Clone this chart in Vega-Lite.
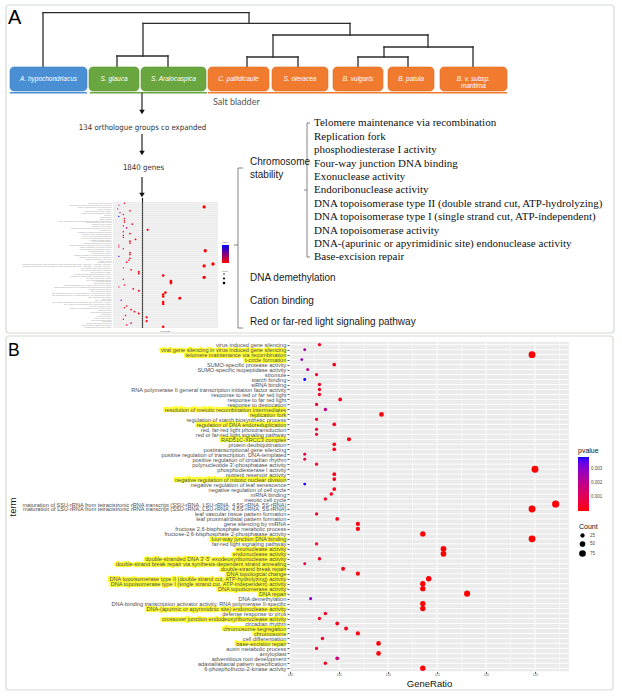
{
"$schema":"https://vega.github.io/schema/vega-lite/v6.json",
"width":622,"height":700,"padding":0,"autosize":{"type":"none"},
"background":"white",
"config":{"view":{"stroke":null},"font":"Liberation Sans"},
"datasets":{
"go":[
{"term":"virus induced gene silencing","GeneRatio":0.03012,"Count":10,"pvalue":0.0003,"hl":0},
{"term":"viral gene silencing in virus induced gene silencing","GeneRatio":0.01506,"Count":5,"pvalue":0.0026,"hl":1},
{"term":"telomere maintenance via recombination","GeneRatio":0.24699,"Count":82,"pvalue":0.00001,"hl":1},
{"term":"t-circle formation","GeneRatio":0.01205,"Count":4,"pvalue":0.0029,"hl":1},
{"term":"SUMO-specific protease activity","GeneRatio":0.04518,"Count":15,"pvalue":0.0002,"hl":0},
{"term":"SUMO-specific isopeptidase activity","GeneRatio":0.01807,"Count":6,"pvalue":0.0022,"hl":0},
{"term":"stromule","GeneRatio":0.02711,"Count":9,"pvalue":0.0004,"hl":0},
{"term":"starch binding","GeneRatio":0.01506,"Count":5,"pvalue":0.0039,"hl":0},
{"term":"siRNA binding","GeneRatio":0.03012,"Count":10,"pvalue":0.0003,"hl":0},
{"term":"RNA polymerase II general transcription initiation factor activity","GeneRatio":0.03012,"Count":10,"pvalue":0.0003,"hl":0},
{"term":"response to red or far red light","GeneRatio":0.03012,"Count":10,"pvalue":0.0003,"hl":0},
{"term":"response to far red light","GeneRatio":0.0512,"Count":17,"pvalue":0.0002,"hl":0},
{"term":"response to desiccation","GeneRatio":0.02711,"Count":9,"pvalue":0.0004,"hl":0},
{"term":"resolution of meiotic recombination intermediates","GeneRatio":0.03614,"Count":12,"pvalue":0.0021,"hl":1},
{"term":"replication fork","GeneRatio":0.09337,"Count":31,"pvalue":0.00005,"hl":1},
{"term":"regulation of starch biosynthetic process","GeneRatio":0.02711,"Count":9,"pvalue":0.0004,"hl":0},
{"term":"regulation of DNA endoreduplication","GeneRatio":0.04518,"Count":15,"pvalue":0.0002,"hl":1},
{"term":"red, far-red light phototransduction","GeneRatio":0.02711,"Count":9,"pvalue":0.0004,"hl":0},
{"term":"red or far-red light signaling pathway","GeneRatio":0.02711,"Count":9,"pvalue":0.0004,"hl":0},
{"term":"RAD51C-XRCC3 complex","GeneRatio":0.06024,"Count":20,"pvalue":0.0001,"hl":1},
{"term":"protein deubiquitination","GeneRatio":0.04518,"Count":15,"pvalue":0.0002,"hl":0},
{"term":"posttranscriptional gene silencing","GeneRatio":0.04518,"Count":15,"pvalue":0.0002,"hl":0},
{"term":"positive regulation of transcription, DNA-templated","GeneRatio":0.01506,"Count":5,"pvalue":0.0008,"hl":0},
{"term":"positive regulation of circadian rhythm","GeneRatio":0.01506,"Count":5,"pvalue":0.0008,"hl":0},
{"term":"polynucleotide 3'-phosphatase activity","GeneRatio":0.02711,"Count":9,"pvalue":0.0004,"hl":0},
{"term":"phosphodiesterase I activity","GeneRatio":0.25,"Count":83,"pvalue":0.00001,"hl":0},
{"term":"nutrient reservoir activity","GeneRatio":0.04518,"Count":15,"pvalue":0.0002,"hl":0},
{"term":"negative regulation of mitotic nuclear division","GeneRatio":0.04518,"Count":15,"pvalue":0.0002,"hl":1},
{"term":"negative regulation of leaf senescence","GeneRatio":0.01506,"Count":5,"pvalue":0.0038,"hl":0},
{"term":"negative regulation of cell cycle","GeneRatio":0.04518,"Count":15,"pvalue":0.0002,"hl":0},
{"term":"mRNA binding","GeneRatio":0.04217,"Count":14,"pvalue":0.0002,"hl":0},
{"term":"meiotic cell cycle","GeneRatio":0.03614,"Count":12,"pvalue":0.0003,"hl":0},
{"term":"maturation of SSU-rRNA from tetracistronic rRNA transcript (SSU-rRNA, LSU-rRNA, 4.5S-rRNA, 5S-rRNA)","GeneRatio":0.27108,"Count":90,"pvalue":0.00001,"hl":0},
{"term":"maturation of LSU-rRNA from tetracistronic rRNA transcript (SSU-rRNA, LSU-rRNA, 4.5S-rRNA, 5S-rRNA)","GeneRatio":0.24699,"Count":82,"pvalue":0.00001,"hl":0},
{"term":"leaf vascular tissue pattern formation","GeneRatio":0.02711,"Count":9,"pvalue":0.0004,"hl":0},
{"term":"leaf proximal/distal pattern formation","GeneRatio":0.04819,"Count":16,"pvalue":0.0002,"hl":0},
{"term":"gene silencing by miRNA","GeneRatio":0.06928,"Count":23,"pvalue":0.0001,"hl":0},
{"term":"fructose 2,6-bisphosphate metabolic process","GeneRatio":0.06928,"Count":23,"pvalue":0.0001,"hl":0},
{"term":"fructose-2,6-bisphosphate 2-phosphatase activity","GeneRatio":0.13554,"Count":45,"pvalue":0.00002,"hl":0},
{"term":"four-way junction DNA binding","GeneRatio":0.24699,"Count":82,"pvalue":0.00001,"hl":1},
{"term":"far-red light signaling pathway","GeneRatio":0.02711,"Count":9,"pvalue":0.0004,"hl":0},
{"term":"exonuclease activity","GeneRatio":0.15663,"Count":52,"pvalue":0.00002,"hl":1},
{"term":"endonuclease activity","GeneRatio":0.15663,"Count":52,"pvalue":0.00002,"hl":1},
{"term":"double-stranded DNA 3'-5' exodeoxyribonuclease activity","GeneRatio":0.03012,"Count":10,"pvalue":0.0003,"hl":1},
{"term":"double-strand break repair via synthesis-dependent strand annealing","GeneRatio":0.01506,"Count":5,"pvalue":0.0008,"hl":1},
{"term":"double-strand break repair","GeneRatio":0.05422,"Count":18,"pvalue":0.0002,"hl":1},
{"term":"DNA topological change","GeneRatio":0.06928,"Count":23,"pvalue":0.0001,"hl":1},
{"term":"DNA topoisomerase type II (double strand cut, ATP-hydrolyzing) activity","GeneRatio":0.14157,"Count":47,"pvalue":0.00002,"hl":1},
{"term":"DNA topoisomerase type I (single strand cut, ATP-independent) activity","GeneRatio":0.13554,"Count":45,"pvalue":0.00002,"hl":1},
{"term":"DNA topoisomerase activity","GeneRatio":0.13554,"Count":45,"pvalue":0.00002,"hl":1},
{"term":"DNA repair","GeneRatio":0.18072,"Count":60,"pvalue":0.00001,"hl":1},
{"term":"DNA demethylation","GeneRatio":0.02108,"Count":7,"pvalue":0.0031,"hl":0},
{"term":"DNA-binding transcription activator activity, RNA polymerase II-specific","GeneRatio":0.13554,"Count":45,"pvalue":0.00002,"hl":0},
{"term":"DNA-(apurinic or apyrimidinic site) endonuclease activity","GeneRatio":0.13554,"Count":45,"pvalue":0.00002,"hl":1},
{"term":"defense response to virus","GeneRatio":0.03614,"Count":12,"pvalue":0.0003,"hl":0},
{"term":"crossover junction endodeoxyribonuclease activity","GeneRatio":0.03012,"Count":10,"pvalue":0.0003,"hl":1},
{"term":"circadian rhythm","GeneRatio":0.04819,"Count":16,"pvalue":0.0002,"hl":0},
{"term":"chromosome segregation","GeneRatio":0.05723,"Count":19,"pvalue":0.0002,"hl":1},
{"term":"chromosome","GeneRatio":0.06928,"Count":23,"pvalue":0.0001,"hl":1},
{"term":"cell differentiation","GeneRatio":0.03313,"Count":11,"pvalue":0.0003,"hl":0},
{"term":"base-excision repair","GeneRatio":0.09036,"Count":30,"pvalue":0.00005,"hl":1},
{"term":"auxin metabolic process","GeneRatio":0.02711,"Count":9,"pvalue":0.0004,"hl":0},
{"term":"amyloplast","GeneRatio":0.09036,"Count":30,"pvalue":0.00005,"hl":0},
{"term":"adventitious root development","GeneRatio":0.04819,"Count":16,"pvalue":0.0017,"hl":0},
{"term":"adaxial/abaxial pattern specification","GeneRatio":0.03614,"Count":12,"pvalue":0.0003,"hl":0},
{"term":"6-phosphofructo-2-kinase activity","GeneRatio":0.13554,"Count":45,"pvalue":0.00002,"hl":0}
],
"frames":[{"x":6,"x2":614,"y":5,"y2":333},{"x":6,"x2":613,"y":336,"y2":690}],
"panels":[{"x":289,"x2":569,"y":341.7,"y2":671.3},{"x":113,"x2":218,"y":202,"y2":328}],
"grad":[{"x":222,"x2":229,"y":245,"y2":263}],
"mdots":[{"x":224,"y":274,"Count":25},{"x":224,"y":278.5,"Count":50},{"x":224,"y":283,"Count":75}],
"tree":[
{"x":43,"y":12.7,"x2":249,"y2":12.7},{"x":43,"y":12.7,"x2":43,"y2":67},{"x":249,"y":12.7,"x2":249,"y2":23.3},
{"x":143,"y":23.3,"x2":350,"y2":23.3},{"x":143,"y":23.3,"x2":143,"y2":56},{"x":350,"y":23.3,"x2":350,"y2":35},
{"x":117,"y":56,"x2":168,"y2":56},{"x":117,"y":56,"x2":117,"y2":67},{"x":168,"y":56,"x2":168,"y2":67},
{"x":273,"y":35,"x2":428,"y2":35},{"x":273,"y":35,"x2":273,"y2":57},{"x":428,"y":35,"x2":428,"y2":47},
{"x":247,"y":57,"x2":298,"y2":57},{"x":247,"y":57,"x2":247,"y2":67},{"x":298,"y":57,"x2":298,"y2":67},
{"x":384,"y":47,"x2":473,"y2":47},{"x":384,"y":47,"x2":384,"y2":57},{"x":473,"y":47,"x2":473,"y2":67},
{"x":358,"y":57,"x2":408,"y2":57},{"x":358,"y":57,"x2":358,"y2":67},{"x":408,"y":57,"x2":408,"y2":67}
],
"boxes":[
{"sp":"A. hypochondriacus","clade":"outgroup","x":10,"x2":87,"xc":48.5,"y":67,"y2":91,"yc":79},
{"sp":"S. glauca","clade":"salt","x":89,"x2":139,"xc":114,"y":67,"y2":91,"yc":79},
{"sp":"S. Aralocaspica","clade":"salt","x":141,"x2":206,"xc":173.5,"y":67,"y2":91,"yc":79},
{"sp":"C. pallidicaule","clade":"other","x":208,"x2":269,"xc":238.5,"y":67,"y2":91,"yc":79},
{"sp":"S. oleracea","clade":"other","x":272,"x2":328,"xc":300,"y":67,"y2":91,"yc":79},
{"sp":"B. vulgaris","clade":"other","x":333,"x2":383,"xc":358,"y":67,"y2":91,"yc":79},
{"sp":"B. patula","clade":"other","x":388,"x2":434,"xc":411,"y":67,"y2":91,"yc":79},
{"sp":"B. v. subsp.\nmaritima","clade":"other","x":440,"x2":507,"xc":473.5,"y":67,"y2":91,"yc":79}
],
"under":[{"clade":"outgroup","x":10,"x2":87,"y":92.8},{"clade":"salt","x":90,"x2":207,"y":92.8},{"clade":"other","x":208,"x2":507,"y":92.8}],
"arrows":[{"x":142,"y":93,"y2":110},{"x":142,"y":134,"y2":151},{"x":142,"y":177,"y2":193},{"x":142.5,"y":198,"y2":328}],
"heads":[{"x":142,"y":112},{"x":142,"y":153},{"x":142,"y":195}],
"brackets":[
{"x":238,"y":168,"x2":238,"y2":328},{"x":238,"y":168,"x2":243,"y2":168},{"x":238,"y":328,"x2":243,"y2":328},{"x":234,"y":245,"x2":238,"y2":245},
{"x":307,"y":123,"x2":307,"y2":257},{"x":307,"y":123,"x2":310,"y2":123},{"x":307,"y":257,"x2":310,"y2":257},{"x":304,"y":190,"x2":307,"y2":190}
],
"txt":[
{"t":"A","x":8,"y":18,"g":"letterA"},
{"t":"B","x":8,"y":351,"g":"letterB"},
{"t":"Salt bladder","x":213,"y":101.5,"g":"salt"},
{"t":"134 orthologue groups co expanded","x":142.5,"y":127.5,"g":"flow"},
{"t":"1840 genes","x":143.5,"y":168,"g":"flow"},
{"t":"Chromosome","x":250,"y":161.5,"g":"cat"},
{"t":"stability","x":250,"y":174.5,"g":"cat"},
{"t":"DNA demethylation","x":250,"y":278,"g":"cat"},
{"t":"Cation binding","x":250,"y":300.5,"g":"cat"},
{"t":"Red or far-red light signaling pathway","x":250,"y":322,"g":"cat"},
{"t":"Telomere maintenance via recombination","x":314,"y":123.3,"g":"list"},
{"t":"Replication fork","x":314,"y":136.7,"g":"list"},
{"t":"phosphodiesterase I activity","x":314,"y":150.1,"g":"list"},
{"t":"Four-way junction DNA binding","x":314,"y":163.5,"g":"list"},
{"t":"Exonuclease activity","x":314,"y":176.9,"g":"list"},
{"t":"Endoribonuclease activity","x":314,"y":190.3,"g":"list"},
{"t":"DNA topoisomerase type II (double strand cut, ATP-hydrolyzing)","x":314,"y":203.7,"g":"list"},
{"t":"DNA topoisomerase type I (single strand cut, ATP-independent)","x":314,"y":217.1,"g":"list"},
{"t":"DNA topoisomerase activity","x":314,"y":230.5,"g":"list"},
{"t":"DNA-(apurinic or apyrimidinic site) endonuclease activity","x":314,"y":243.9,"g":"list"},
{"t":"Base-excision repair","x":314,"y":257.3,"g":"list"},
{"t":"pvalue","x":222,"y":242,"g":"tiny"},
{"t":"Count","x":222,"y":270.5,"g":"tiny"},
{"t":"GeneRatio","x":160,"y":330.5,"g":"tiny"}
]
},
"layer":[
{
"encoding":{
"x":{"field":"x","type":"quantitative","scale":{"domain":[0,622],"range":[0,622],"nice":false,"zero":false},"axis":null},
"y":{"field":"y","type":"quantitative","scale":{"domain":[0,700],"range":[0,700],"nice":false,"zero":false},"axis":null}
},
"layer":[
{"data":{"name":"frames"},"mark":{"type":"rect","fill":"transparent","stroke":"#d3dbd3","strokeWidth":1.2,"cornerRadius":3},"encoding":{"x2":{"field":"x2"},"y2":{"field":"y2"}}},
{"data":{"name":"panels"},"mark":{"type":"rect","fill":"#EBEBEB"},"encoding":{"x2":{"field":"x2"},"y2":{"field":"y2"}}},
{"data":{"name":"grad"},"mark":{"type":"rect","fill":{"gradient":"linear","x1":0,"y1":0,"x2":0,"y2":1,"stops":[{"offset":0,"color":"#0000ff"},{"offset":1,"color":"#ff0000"}]}},"encoding":{"x2":{"field":"x2"},"y2":{"field":"y2"}}},
{"data":{"name":"mdots"},"mark":{"type":"circle","color":"black","opacity":1},"encoding":{"size":{"field":"Count","type":"quantitative","scale":{"domain":[25,75],"range":[2,7]},"legend":null}}},
{"data":{"name":"tree"},"mark":{"type":"rule","color":"#2b2b2b","strokeWidth":1.3,"strokeCap":"square"},"encoding":{"x2":{"field":"x2"},"y2":{"field":"y2"}}},
{"data":{"name":"boxes"},"transform":[{"filter":"datum.clade == 'outgroup'"}],"mark":{"type":"rect","cornerRadius":4,"fill":"#4a8fd4","stroke":"#3d7fc0","strokeWidth":0.6},"encoding":{"x2":{"field":"x2"},"y2":{"field":"y2"}}},
{"data":{"name":"boxes"},"transform":[{"filter":"datum.clade == 'salt'"}],"mark":{"type":"rect","cornerRadius":4,"fill":"#6aa63f","stroke":"#5a9434","strokeWidth":0.6},"encoding":{"x2":{"field":"x2"},"y2":{"field":"y2"}}},
{"data":{"name":"boxes"},"transform":[{"filter":"datum.clade == 'other'"}],"mark":{"type":"rect","cornerRadius":4,"fill":"#f07b2e","stroke":"#dc6c22","strokeWidth":0.6},"encoding":{"x2":{"field":"x2"},"y2":{"field":"y2"}}},
{"data":{"name":"boxes"},"mark":{"type":"text","fill":"#ffffff","fontSize":6.5,"fontStyle":"italic","lineBreak":"\n","lineHeight":7,"baseline":"middle","align":"center"},"encoding":{"x":{"field":"xc","type":"quantitative"},"y":{"field":"yc","type":"quantitative"},"text":{"field":"sp"}}},
{"data":{"name":"under"},"transform":[{"filter":"datum.clade == 'outgroup'"}],"mark":{"type":"rule","strokeWidth":1.4,"color":"#4a8fd4"},"encoding":{"x2":{"field":"x2"}}},
{"data":{"name":"under"},"transform":[{"filter":"datum.clade == 'salt'"}],"mark":{"type":"rule","strokeWidth":1.4,"color":"#6aa63f"},"encoding":{"x2":{"field":"x2"}}},
{"data":{"name":"under"},"transform":[{"filter":"datum.clade == 'other'"}],"mark":{"type":"rule","strokeWidth":1.4,"color":"#f07b2e"},"encoding":{"x2":{"field":"x2"}}},
{"data":{"name":"arrows"},"mark":{"type":"rule","color":"#222222","strokeWidth":1.2},"encoding":{"y2":{"field":"y2"}}},
{"data":{"name":"heads"},"mark":{"type":"point","shape":"triangle-down","filled":true,"color":"#111111","size":30,"opacity":1},"encoding":{}},
{"data":{"name":"brackets"},"mark":{"type":"rule","color":"#666666","strokeWidth":0.8},"encoding":{"x2":{"field":"x2"},"y2":{"field":"y2"}}},
{"data":{"name":"txt"},"transform":[{"filter":"datum.g == 'letterA'"}],"mark":{"type":"text","fontSize":20,"align":"left","baseline":"middle","color":"#000000"},"encoding":{"text":{"field":"t"}}},
{"data":{"name":"txt"},"transform":[{"filter":"datum.g == 'letterB'"}],"mark":{"type":"text","fontSize":17.5,"align":"left","baseline":"middle","color":"#000000"},"encoding":{"text":{"field":"t"}}},
{"data":{"name":"txt"},"transform":[{"filter":"datum.g == 'salt'"}],"mark":{"type":"text","font":"Lato","fontSize":9,"align":"left","baseline":"middle","color":"#555555"},"encoding":{"text":{"field":"t"}}},
{"data":{"name":"txt"},"transform":[{"filter":"datum.g == 'flow'"}],"mark":{"type":"text","font":"Liberation Sans Narrow, DejaVu Sans Condensed, Roboto Condensed, Liberation Sans","fontSize":7.8,"align":"center","baseline":"middle","color":"#333333"},"encoding":{"text":{"field":"t"}}},
{"data":{"name":"txt"},"transform":[{"filter":"datum.g == 'cat'"}],"mark":{"type":"text","fontSize":10,"align":"left","baseline":"middle","color":"#1a1a1a"},"encoding":{"text":{"field":"t"}}},
{"data":{"name":"txt"},"transform":[{"filter":"datum.g == 'list'"}],"mark":{"type":"text","font":"Liberation Serif","fontSize":11,"align":"left","baseline":"middle","color":"#111111"},"encoding":{"text":{"field":"t"}}},
{"data":{"name":"txt"},"transform":[{"filter":"datum.g == 'tiny'"}],"mark":{"type":"text","fontSize":2.2,"align":"left","baseline":"middle","color":"#555555"},"encoding":{"text":{"field":"t"}}}
]
},
{
"data":{"name":"go"},
"encoding":{
"x":{"field":"GeneRatio","type":"quantitative","scale":{"domain":[-0.001,0.2847],"range":[113,218],"nice":false,"zero":false},"axis":null},
"y":{"field":"term","type":"nominal","sort":null,"scale":{"type":"point","range":[202,328],"padding":0.6},"axis":null}
},
"layer":[
{"mark":{"type":"rule","color":"white","strokeWidth":0.4},"encoding":{"x":{"datum":-0.001},"x2":{"datum":0.2847}}},
{"mark":{"type":"text","fontSize":1.9,"align":"right","baseline":"middle","dx":-1.5,"color":"#9a9a9a"},"encoding":{"x":{"datum":-0.001},"text":{"field":"term"}}},
{"mark":{"type":"circle","opacity":1},"encoding":{
"size":{"field":"Count","type":"quantitative","scale":{"type":"linear","domain":[2,90],"range":[1.2,12]},"legend":null},
"color":{"field":"pvalue","type":"quantitative","scale":{"type":"linear","domain":[0,0.0039],"range":["#ff0000","#0000ff"],"interpolate":"lab"},"legend":null}}}
]
},
{
"data":{"name":"go"},
"encoding":{
"x":{"field":"GeneRatio","type":"quantitative","scale":{"domain":[-0.001,0.2847],"range":[289,569],"nice":false,"zero":false},
"axis":{"title":"GeneRatio","orient":"bottom","offset":-28.7,"values":[0,0.05,0.1,0.15,0.2,0.25],"format":".2f","domain":false,"grid":false,"tickSize":2,"tickColor":"#333333","tickWidth":0.8,"labelFontSize":2.6,"labelColor":"#4d4d4d","labelPadding":1,"labelFlush":false,"labelOverlap":false,"titleFontSize":9.5,"titleFontWeight":"normal","titleColor":"#111111","titlePadding":1.5}},
"y":{"field":"term","type":"nominal","sort":null,"scale":{"type":"point","range":[341.7,671.3],"padding":0.6},
"axis":{"title":"term","orient":"left","offset":-289,"domain":false,"grid":false,"ticks":true,"tickSize":2,"tickColor":"#333333","tickWidth":0.8,"labelFontSize":5.6,"labelColor":"#4d4d4d","labelPadding":1.2,"labelLimit":0,"labelOverlap":false,"labelBound":false,"titleFontSize":9.5,"titleFontWeight":"normal","titleColor":"#111111","titleX":-276.5,"titleY":506.5,"titleBaseline":"middle","titleAlign":"center","titleAngle":270,"zindex":1}}
},
"layer":[
{"mark":{"type":"rule","color":"white","strokeWidth":0.9},"encoding":{"x":{"datum":-0.001},"x2":{"datum":0.2847}}},
{"data":{"values":[{"g":0.025},{"g":0.075},{"g":0.125},{"g":0.175},{"g":0.225},{"g":0.275}]},"mark":{"type":"rule","color":"white","strokeWidth":0.45,"yOffset":-3,"y2Offset":3},"encoding":{"x":{"field":"g","type":"quantitative"},"y":{"datum":"virus induced gene silencing"},"y2":{"datum":"6-phosphofructo-2-kinase activity"}}},
{"data":{"values":[{"g":0},{"g":0.05},{"g":0.1},{"g":0.15},{"g":0.2},{"g":0.25}]},"mark":{"type":"rule","color":"white","strokeWidth":0.9,"yOffset":-3,"y2Offset":3},"encoding":{"x":{"field":"g","type":"quantitative"},"y":{"datum":"virus induced gene silencing"},"y2":{"datum":"6-phosphofructo-2-kinase activity"}}},
{"mark":{"type":"text","align":"right","baseline":"middle","dx":-3.2,"fontSize":5.6,"font":"Liberation Sans","fill":"#ffff33","stroke":"#ffff33","strokeWidth":2.4,"strokeJoin":"round"},"encoding":{"x":{"datum":-0.001},"text":{"field":"term"},"opacity":{"condition":{"test":"datum.hl == 1","value":1},"value":0}}},
{"mark":{"type":"circle","opacity":1},"encoding":{
"size":{"field":"Count","type":"quantitative","scale":{"type":"linear","domain":[2,90],"range":[7,52]},
"legend":{"orient":"none","legendX":579,"legendY":523,"title":"Count","titleFontSize":7,"titleFontWeight":"normal","titleColor":"#111111","titlePadding":3,"values":[25,50,75],"symbolType":"circle","symbolFillColor":"black","symbolStrokeWidth":0,"labelFontSize":4.5,"labelColor":"#4d4d4d","rowPadding":3,"labelOffset":4}},
"color":{"field":"pvalue","type":"quantitative","scale":{"type":"linear","domain":[0,0.0039],"range":["#ff0000","#0000ff"],"interpolate":"lab"},
"legend":{"orient":"none","legendX":578,"legendY":447,"title":"pvalue","titleFontSize":7,"titleFontWeight":"normal","titleColor":"#111111","titlePadding":3,"gradientLength":54,"gradientThickness":11,"gradientStrokeWidth":0,"labelFontSize":4.5,"labelColor":"#4d4d4d","values":[0.001,0.002,0.003],"format":".3f","labelOffset":2,"direction":"vertical"}}}}
]
}
],
"resolve":{"scale":{"x":"independent","y":"independent","color":"independent","size":"independent"}}
}
